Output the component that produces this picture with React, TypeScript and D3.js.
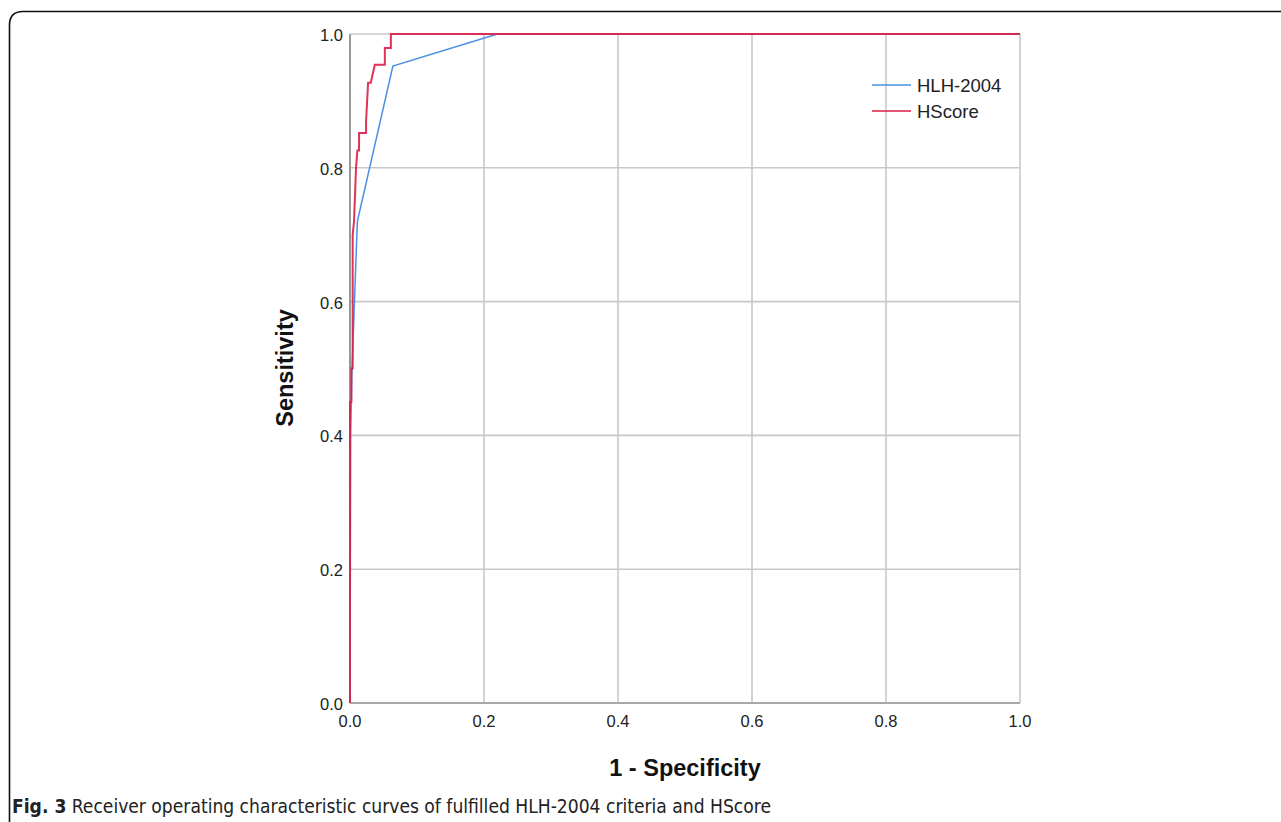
import React from "react";
import * as d3 from "d3";

const xTicks = [0, 0.2, 0.4, 0.6, 0.8, 1.0];
const yTicks = [0, 0.2, 0.4, 0.6, 0.8, 1.0];
const tickLabels = ["0.0", "0.2", "0.4", "0.6", "0.8", "1.0"];

const seriesNames = ["HLH-2004", "HScore"];
const seriesColors = ["#4a90e2", "#dc1e46"];

const hlhFpr = [0, 0.001, 0.003, 0.011, 0.064, 0.22, 1.0];
const hlhTpr = [0, 0.4, 0.5, 0.72, 0.952, 1.0, 1.0];

const hsFpr = [0, 0, 0.002, 0.002, 0.004, 0.004, 0.006, 0.009, 0.011, 0.0135, 0.0135, 0.024, 0.024, 0.027, 0.031, 0.037, 0.052, 0.052, 0.061, 0.061, 1.0];
const hsTpr = [0, 0.45, 0.45, 0.5, 0.5, 0.7, 0.72, 0.8, 0.826, 0.826, 0.852, 0.852, 0.87, 0.927, 0.927, 0.954, 0.954, 0.979, 0.979, 1.0, 1.0];

const W = 1281;
const H = 822;
const L = 350, R = 1020, T = 34, B = 703;

export default function App() {
  const x = d3.scaleLinear().domain([0, 1]).range([L, R]);
  const y = d3.scaleLinear().domain([0, 1]).range([B, T]);
  const line = d3.line<[number, number]>().x(d => x(d[0])).y(d => y(d[1]));
  const hlh = hlhFpr.map((f, i) => [f, hlhTpr[i]] as [number, number]);
  const hs = hsFpr.map((f, i) => [f, hsTpr[i]] as [number, number]);
  const sans = "Liberation Sans, Arial, sans-serif";
  const narrow = "Liberation Sans Narrow, DejaVu Sans Condensed, Liberation Sans, sans-serif";

  return (
    <svg width={W} height={H} style={{ position: "absolute", left: 0, top: 0, background: "#fff" }}>
      <rect x={0} y={0} width={W} height={H} fill="#fff" />
      <path d={`M9.5,${H + 10} L9.5,25 Q9.5,11.5 23,11.5 L${W + 10},11.5`} fill="none" stroke="#111" strokeWidth={1.6} />
      {xTicks.map((t, i) => (
        <line key={"gx" + i} x1={x(t)} x2={x(t)} y1={T} y2={B} stroke="#c8c8c8" strokeWidth={1.6} />
      ))}
      {yTicks.map((t, i) => (
        <line key={"gy" + i} x1={L} x2={R} y1={y(t)} y2={y(t)} stroke="#c8c8c8" strokeWidth={1.6} />
      ))}
      <line x1={L} x2={L} y1={T} y2={B} stroke="#8a8a8a" strokeWidth={1.6} />
      <line x1={L} x2={R} y1={B} y2={B} stroke="#a8a8a8" strokeWidth={2} />
      {yTicks.map((t, i) => (
        <text key={"ty" + i} x={L - 7} y={y(t) + 7} textAnchor="end" fontFamily={sans} fontSize={16.5} fill="#222">
          {tickLabels[i]}
        </text>
      ))}
      {xTicks.map((t, i) => (
        <text key={"tx" + i} x={x(t)} y={B + 24} textAnchor="middle" fontFamily={sans} fontSize={16.5} fill="#222">
          {tickLabels[i]}
        </text>
      ))}
      <path d={line(hlh) || ""} fill="none" stroke={seriesColors[0]} strokeWidth={1.5} />
      <path d={line(hs) || ""} fill="none" stroke={seriesColors[1]} strokeWidth={2} strokeOpacity={0.9} />
      {seriesNames.map((n, i) => (
        <g key={"lg" + i}>
          <line x1={872} x2={911} y1={85 + i * 26} y2={85 + i * 26} stroke={seriesColors[i]} strokeWidth={1.6} />
          <text x={917} y={85 + i * 26 + 6.5} fontFamily={sans} fontSize={18.5} fill="#222">{n}</text>
        </g>
      ))}
      <text x={0} y={0} transform={`translate(293,368) rotate(-90)`} textAnchor="middle" fontFamily={sans} fontWeight="bold" fontSize={23.5} fill="#111">
        Sensitivity
      </text>
      <text x={685} y={776} textAnchor="middle" fontFamily={sans} fontWeight="bold" fontSize={23.5} fill="#111">
        1 - Specificity
      </text>
      <text x={12} y={813} fontFamily={narrow} fontSize={20} fill="#222" textLength={759} lengthAdjust="spacingAndGlyphs">
        <tspan fontWeight="bold">Fig. 3</tspan>
        <tspan> Receiver operating characteristic curves of fulfilled HLH-2004 criteria and HScore</tspan>
      </text>
    </svg>
  );
}
